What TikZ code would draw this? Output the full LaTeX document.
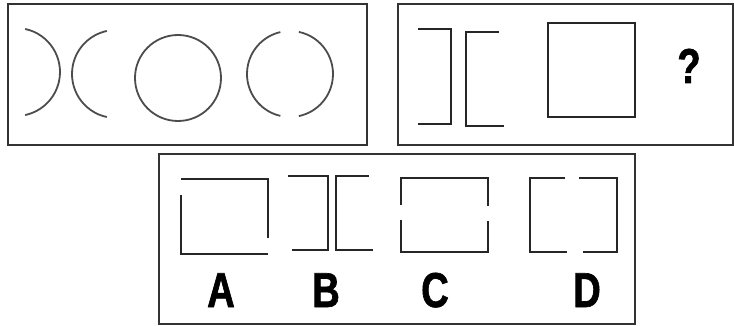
\documentclass[tikz,border=0pt]{standalone}
\usepackage{fontspec}
\newfontfamily\puzzlefont[FakeStretch=0.78, BoldFeatures={FakeBold=1.3}]{Liberation Sans}
\tikzset{
	panel/.style={draw=black!80, line width=1.6pt},
	arcline/.style={draw=black!70, line width=1.8pt},
	figline/.style={draw=black!85, line width=1.3pt},
	optlabel/.style={font=\puzzlefont\bfseries\fontsize{49}{49}\selectfont,
		inner sep=0pt, anchor=base},
}

\begin{document}
\begin{tikzpicture}[x=1pt, y=-1pt]
	\useasboundingbox (0,0) rectangle (734,326);
	% question row
	\draw[panel] (8,4) rectangle (367,145);
	\draw[panel] (398,4) rectangle (733,145);
	\draw[arcline] (16,72) ++(-78:44) arc[start angle=-78, end angle=78, radius=44];
	\draw[arcline] (116,74) ++(102:44) arc[start angle=102, end angle=258, radius=44];
	\draw[arcline] (178,78) circle[radius=43];
	\draw[arcline] (290,74) ++(103:43) arc[start angle=103, end angle=257, radius=43];
	\draw[arcline] (290,74) ++(-78:43) arc[start angle=-78, end angle=78, radius=43];
	\draw[figline] (418,29) -- (451,29) -- (451,124) -- (418,124);
	\draw[figline] (499,32) -- (466,32) -- (466,126) -- (504,126);
	\draw[figline] (548,23) rectangle (635,117);
	\node[optlabel] (ask) at (689,83) {?};
	% options
	\draw[panel] (159,154) rectangle (635,324);
	\draw[figline] (181,179) -- (268,179) -- (268,238);
	\draw[figline] (181,195) -- (181,254) -- (268,254);
	\draw[figline] (288,176) -- (328,176) -- (328,250) -- (292,250);
	\draw[figline] (369,176) -- (336,176) -- (336,250) -- (373,250);
	\draw[figline] (401,205) -- (401,178) -- (488,178) -- (488,206);
	\draw[figline] (401,220) -- (401,252) -- (488,252) -- (488,221);
	\draw[figline] (565,178) -- (530,178) -- (530,252) -- (567,252);
	\draw[figline] (579,178) -- (617,178) -- (617,252) -- (583,252);
	\node[optlabel] (optA) at (221,307) {A};
	\node[optlabel] (optB) at (326,307) {B};
	\node[optlabel] (optC) at (435,307) {C};
	\node[optlabel] (optD) at (587,307) {D};
\end{tikzpicture}
\end{document}
